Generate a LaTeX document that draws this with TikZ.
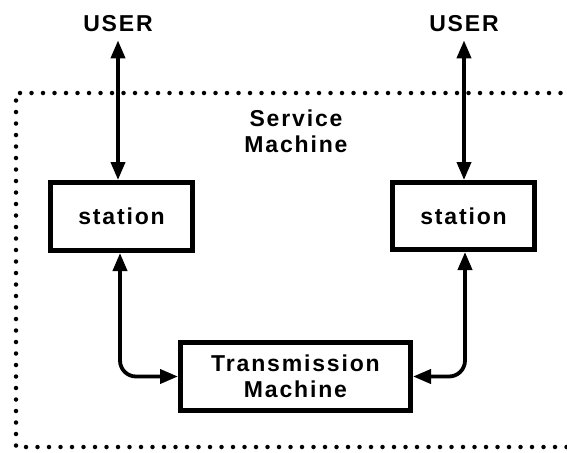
\documentclass[tikz,border=0pt]{standalone}
\usepackage{fontspec}
\setmainfont{Liberation Sans}[LetterSpace=8]
\usetikzlibrary{arrows.meta}
\begin{document}
\begin{tikzpicture}[x=1pt,y=-1pt,
  lbl/.style={font=\fontsize{23}{26}\selectfont\bfseries, inner sep=0pt, align=center},
  unitbox/.style={draw, line width=5pt, inner sep=0pt, lbl},
  link/.style={line width=3.8pt, {Triangle[length=18pt,width=14pt]}-{Triangle[length=18pt,width=14pt]}},
  boundary/.style={line width=4.5pt, line cap=round, dash pattern=on 0pt off 11.5pt}
]
\useasboundingbox (0,0) rectangle (567,452);

% dotted boundary of the service machine
\draw[boundary] (572,93) -- (16,93) -- (16,447) -- (572,447);

% users
\node[lbl] (userL) at (118,24) {USER};
\node[lbl] (userR) at (464,24) {USER};

\node[lbl] (svc) at (296,131) {Service\\Machine};

% stations and transmission machine
\node[unitbox, minimum width=142pt, minimum height=68pt] (stL) at (121.5,216.5) {station};
\node[unitbox, minimum width=142pt, minimum height=67pt] (stR) at (463.5,216) {station};
\node[unitbox, minimum width=230pt, minimum height=68pt] (tm) at (295.5,376.5) {Transmission\\Machine};

% connectors
\draw[link] ([yshift=-8pt]userL.south) -- (userL.south |- stL.north);
\draw[link] ([yshift=-8pt]userR.south) -- (userR.south |- stR.north);
\draw[link, rounded corners=16pt] (120,0 |- stL.south) |- (tm.west);
\draw[link, rounded corners=16pt] (465,0 |- stR.south) |- (tm.east);
\end{tikzpicture}
\end{document}
